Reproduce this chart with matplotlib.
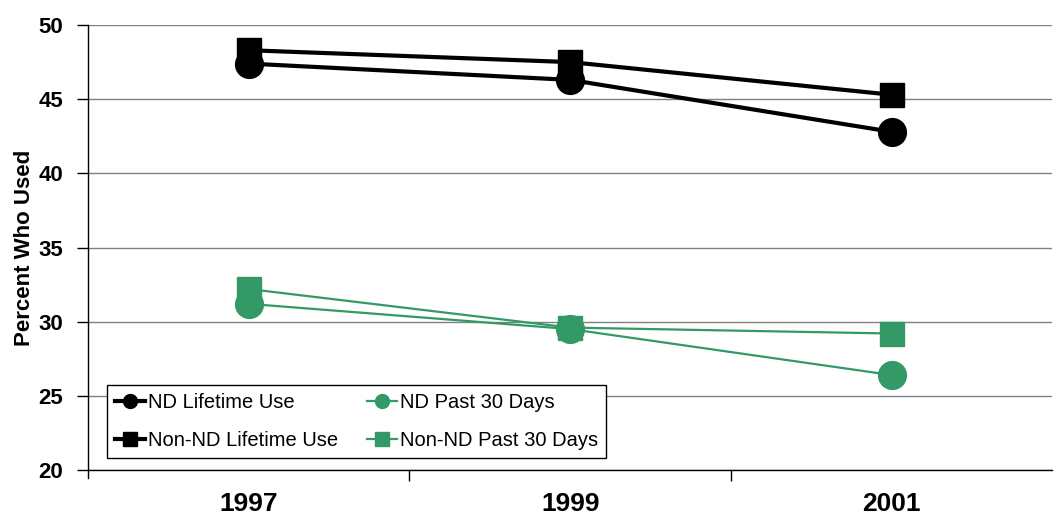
import matplotlib
matplotlib.use("Agg")
import matplotlib.pyplot as plt
from matplotlib.lines import Line2D
from matplotlib.ticker import FixedLocator

years = ["1997", "1999", "2001"]
nd_lifetime = [47.4, 46.3, 42.8]
non_nd_lifetime = [48.3, 47.5, 45.3]
nd_past30 = [31.2, 29.5, 26.4]
non_nd_past30 = [32.2, 29.6, 29.2]

green = "#339966"
plt.rcParams['font.family'] = ['Liberation Sans', 'DejaVu Sans']

fig = plt.figure(figsize=(10.54, 5.18), dpi=100)
ax = fig.add_axes([0.0835, 0.0927, 0.915, 0.859])

x = list(range(len(years)))
ax.plot(x, non_nd_lifetime, color="black", lw=3, marker="s", ms=17, zorder=3)
ax.plot(x, nd_lifetime, color="black", lw=3, marker="o", ms=20, zorder=4)
ax.plot(x, non_nd_past30, color=green, lw=1.6, marker="s", ms=17, zorder=3)
ax.plot(x, nd_past30, color=green, lw=1.6, marker="o", ms=20, zorder=4)

ax.set_xlim(-0.5, 2.5)
ax.set_ylim(20, 50)
ax.set_yticks(range(20, 51, 5))
ax.set_xticks(x)
ax.set_xticklabels(years, fontsize=19, fontweight="bold")
ax.xaxis.set_minor_locator(FixedLocator([0.5, 1.5]))
ax.tick_params(axis="x", which="major", length=0, pad=16)
ax.tick_params(axis="x", which="minor", length=8, width=1, direction="out")
ax.tick_params(axis="y", length=8, width=1, direction="out", labelsize=16, pad=10)
for lab in ax.get_yticklabels():
    lab.set_fontweight("bold")
ax.yaxis.grid(True, color="#808080", lw=1)
ax.set_axisbelow(True)
for s in ["top", "right"]:
    ax.spines[s].set_visible(False)
ax.spines["left"].set_linewidth(1)
ax.spines["bottom"].set_linewidth(1)
ax.spines["left"].set_bounds(19.45, 50)
ax.set_ylabel("Percent Who Used", fontsize=16, fontweight="bold", labelpad=2)

handles = [
    Line2D([], [], color="black", lw=3, marker="o", ms=10),
    Line2D([], [], color="black", lw=3, marker="s", ms=10),
    Line2D([], [], color=green, lw=1.6, marker="o", ms=10),
    Line2D([], [], color=green, lw=1.6, marker="s", ms=10),
]
labels = ["ND Lifetime Use", "Non-ND Lifetime Use", "ND Past 30 Days", "Non-ND Past 30 Days"]
leg = ax.legend(handles, labels, ncol=2, loc="lower left",
                bbox_to_anchor=(0.0197, 0.027), borderaxespad=0,
                fontsize=14.5, frameon=True,
                fancybox=False, edgecolor="black", framealpha=1,
                handlelength=1.5, handletextpad=0.15, columnspacing=1.4,
                labelspacing=0.95, borderpad=0.4)
leg.get_frame().set_linewidth(1)

fig.savefig("out.png", dpi=100)
